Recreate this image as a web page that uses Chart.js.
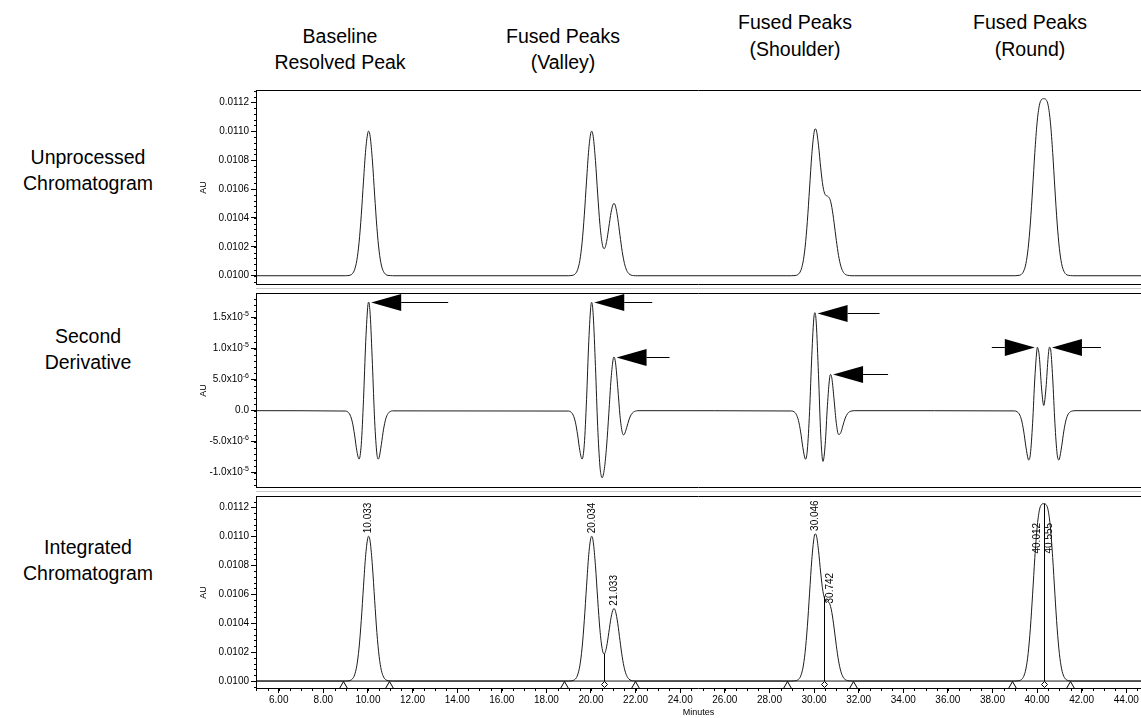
<!DOCTYPE html>
<html>
<head>
<meta charset="utf-8">
<title>Peak detection by second derivative</title>
<script src="https://cdn.jsdelivr.net/npm/chart.js@4.4.1/dist/chart.umd.min.js"></script>
<style>
  html, body { margin: 0; padding: 0; background: #fff; }
  body { position: relative; width: 1141px; height: 718px; overflow: hidden;
         font-family: "Liberation Sans", Arial, sans-serif; color: #000; }
  canvas { position: absolute; left: 194px; }
  .t { position: absolute; font-size: 19.5px; line-height: 1; white-space: nowrap;
       transform: translate(-50%, -50%); }
  .sep { position: absolute; left: 256px; width: 885px; height: 1px; background: #c9c9c9; }
</style>
</head>
<body>
<!-- column headings -->
<div class="t" style="left:340px;top:37px">Baseline</div>
<div class="t" style="left:340px;top:63px">Resolved Peak</div>
<div class="t" style="left:563px;top:37px">Fused Peaks</div>
<div class="t" style="left:563px;top:63px">(Valley)</div>
<div class="t" style="left:795px;top:23px">Fused Peaks</div>
<div class="t" style="left:795px;top:50px">(Shoulder)</div>
<div class="t" style="left:1030px;top:23px">Fused Peaks</div>
<div class="t" style="left:1030px;top:50px">(Round)</div>
<!-- row headings -->
<div class="t" style="left:88px;top:158px">Unprocessed</div>
<div class="t" style="left:88px;top:184px">Chromatogram</div>
<div class="t" style="left:88px;top:337px">Second</div>
<div class="t" style="left:88px;top:363px">Derivative</div>
<div class="t" style="left:88px;top:548px">Integrated</div>
<div class="t" style="left:88px;top:574px">Chromatogram</div>

<div class="sep" style="top:288px"></div>
<div class="sep" style="top:491px"></div>

<canvas id="raw" width="947" height="197" style="top:89px"></canvas>
<canvas id="deriv" width="947" height="197" style="top:292px"></canvas>
<canvas id="integ" width="947" height="223" style="top:495px"></canvas>

<script>
// ---- detector signal (minutes, AU) ----
const chromTime = [
  4.9,
  9.0, 9.1, 9.2, 9.3, 9.4, 9.5, 9.6, 9.7, 9.8, 9.9, 10.0, 10.033, 10.1, 10.2, 10.3, 10.4, 10.5, 10.6, 10.7, 10.8, 10.9, 11.0, 11.1,
  19.0, 19.1, 19.2, 19.3, 19.4, 19.5, 19.6, 19.7, 19.8, 19.9, 20.0, 20.034, 20.1, 20.2, 20.3, 20.4, 20.5, 20.58, 20.6, 20.7, 20.8, 20.9, 21.0, 21.033, 21.1, 21.2, 21.3, 21.4, 21.5, 21.6, 21.7, 21.8, 21.9, 22.0, 22.1,
  29.0, 29.1, 29.2, 29.3, 29.4, 29.5, 29.6, 29.7, 29.8, 29.9, 30.0, 30.046, 30.1, 30.2, 30.3, 30.4, 30.5, 30.6, 30.7, 30.742, 30.8, 30.9, 31.0, 31.1, 31.2, 31.3, 31.4, 31.5, 31.6, 31.7, 31.8,
  39.0, 39.1, 39.2, 39.3, 39.4, 39.5, 39.6, 39.7, 39.8, 39.9, 40.0, 40.1, 40.2, 40.3, 40.4, 40.5, 40.6, 40.7, 40.8, 40.9, 41.0, 41.1, 41.2, 41.3, 41.4, 41.5, 41.6, 41.7,
  44.8
];
const chromAU = [
  0.010000,
  0.010000, 0.010001, 0.010004, 0.010014, 0.010042, 0.010106, 0.010228, 0.010419, 0.010655, 0.010874, 0.010993, 0.011000, 0.010962, 0.010794, 0.010558, 0.010335, 0.010171, 0.010074, 0.010028, 0.010009, 0.010002, 0.010001, 0.010000,
  0.010000, 0.010001, 0.010004, 0.010014, 0.010042, 0.010106, 0.010228, 0.010419, 0.010655, 0.010874, 0.010993, 0.011000, 0.010962, 0.010796, 0.010565, 0.010355, 0.010224, 0.010188, 0.010188, 0.010237, 0.010336, 0.010439, 0.010497, 0.010500, 0.010481, 0.010397, 0.010279, 0.010167, 0.010085, 0.010037, 0.010014, 0.010004, 0.010001, 0.010000, 0.010000,
  0.010000, 0.010001, 0.010003, 0.010011, 0.010034, 0.010089, 0.010198, 0.010375, 0.010607, 0.010838, 0.010990, 0.011016, 0.011008, 0.010903, 0.010746, 0.010619, 0.010561, 0.010551, 0.010534, 0.010515, 0.010473, 0.010366, 0.010244, 0.010139, 0.010068, 0.010028, 0.010010, 0.010003, 0.010001, 0.010000, 0.010000,
  0.010000, 0.010001, 0.010003, 0.010010, 0.010032, 0.010084, 0.010190, 0.010365, 0.010600, 0.010853, 0.011058, 0.011177, 0.011219, 0.011225, 0.011219, 0.011177, 0.011058, 0.010853, 0.010600, 0.010365, 0.010190, 0.010084, 0.010032, 0.010010, 0.010003, 0.010001, 0.010000, 0.010000,
  0.010000
];

// ---- inverted second derivative of the signal (AU) ----
const deriv2Time = [
  4.9,
  9.0, 9.1, 9.2, 9.3, 9.4, 9.5, 9.6, 9.7, 9.8, 9.9, 10.0, 10.033, 10.1, 10.2, 10.3, 10.4, 10.46, 10.5, 10.6, 10.7, 10.8, 10.9, 11.0, 11.1,
  19.0, 19.1, 19.2, 19.3, 19.4, 19.5, 19.6, 19.7, 19.8, 19.9, 20.0, 20.034, 20.1, 20.2, 20.3, 20.4, 20.46, 20.5, 20.6, 20.7, 20.8, 20.9, 21.0, 21.033, 21.1, 21.2, 21.3, 21.4, 21.46, 21.5, 21.6, 21.7, 21.8, 21.9, 22.0, 22.1,
  29.0, 29.1, 29.2, 29.3, 29.4, 29.5, 29.6, 29.62, 29.7, 29.8, 29.9, 30.0, 30.046, 30.1, 30.2, 30.3, 30.4, 30.5, 30.6, 30.7, 30.742, 30.8, 30.9, 31.0, 31.1, 31.2, 31.3, 31.4, 31.5, 31.6, 31.7, 31.8,
  39.0, 39.1, 39.2, 39.3, 39.4, 39.5, 39.6, 39.62, 39.7, 39.8, 39.9, 40.0, 40.012, 40.1, 40.2, 40.3, 40.4, 40.5, 40.555, 40.6, 40.7, 40.8, 40.9, 40.98, 41.0, 41.1, 41.2, 41.3, 41.4, 41.5, 41.6, 41.7,
  44.8
];
const deriv2AU = [
  0,
  -0.06e-6, -0.22e-6, -0.71e-6, -1.85e-6, -3.91e-6, -6.46e-6, -7.81e-6, -5.44e-6, 1.76e-6, 11.15e-6, 17.13e-6, 17.50e-6, 15.50e-6, 7.47e-6, -1.63e-6, -6.97e-6, -7.81e-6, -7.58e-6, -5.46e-6, -2.98e-6, -1.29e-6, -0.46e-6, -0.13e-6, -0.03e-6,
  -0.06e-6, -0.22e-6, -0.71e-6, -1.85e-6, -3.91e-6, -6.46e-6, -7.81e-6, -5.44e-6, 1.76e-6, 11.15e-6, 17.10e-6, 17.46e-6, 15.39e-6, 7.12e-6, -2.56e-6, -8.93e-6, -10.54e-6, -10.81e-6, -9.36e-6, -5.70e-6, -0.41e-6, 5.12e-6, 8.44e-6, 8.66e-6, 7.72e-6, 3.73e-6, -0.81e-6, -3.48e-6, -3.90e-6, -3.79e-6, -2.73e-6, -1.49e-6, -0.65e-6, -0.23e-6, -0.07e-6, 0,
  -0.05e-6, -0.17e-6, -0.57e-6, -1.56e-6, -3.43e-6, -5.97e-6, -7.76e-6, -7.82e-6, -6.35e-6, -0.16e-6, 8.88e-6, 15.28e-6, 15.80e-6, 14.13e-6, 5.81e-6, -3.79e-6, -8.18e-6, -5.47e-6, 0.81e-6, 5.32e-6, 5.85e-6, 5.22e-6, 1.72e-6, -2.04e-6, -3.84e-6, -3.55e-6, -2.34e-6, -1.19e-6, -0.48e-6, -0.16e-6, -0.04e-6, 0,
  -0.04e-6, -0.16e-6, -0.53e-6, -1.47e-6, -3.29e-6, -5.83e-6, -7.82e-6, -7.95e-6, -7.01e-6, -2.02e-6, 5.27e-6, 10.04e-6, 10.22e-6, 8.78e-6, 3.67e-6, 0.85e-6, 3.67e-6, 8.78e-6, 10.24e-6, 10.04e-6, 5.27e-6, -2.02e-6, -7.01e-6, -7.95e-6, -7.82e-6, -5.83e-6, -3.29e-6, -1.47e-6, -0.53e-6, -0.16e-6, -0.04e-6, 0,
  0
];

// ---- integration results ----
const peakTimes = [10.033, 20.034, 21.033, 30.046, 30.742, 40.012, 40.555];
const peakLabelAU = [0.011000, 0.011000, 0.010500, 0.011016, 0.010515, 0.010860, 0.010860];
const peakBoundTimes = [8.89, 10.96, 18.80, 21.97, 28.77, 31.73, 38.89, 41.48];
const dropTimes = [20.58, 30.45, 40.30];
const dropTopAU = [0.010188, 0.010585, 0.011225];
const baselineAU = 0.0100;

// ---- axis ticks ----
const minuteTicks = [6, 8, 10, 12, 14, 16, 18, 20, 22, 24, 26, 28, 30, 32, 34, 36, 38, 40, 42, 44];
const auTicks = [0.0100, 0.0102, 0.0104, 0.0106, 0.0108, 0.0110, 0.0112];
const deriv2Ticks = [-1.0e-5, -5.0e-6, 0, 5.0e-6, 1.0e-5, 1.5e-5];

const FONT = '"Liberation Sans", Arial, sans-serif';
Chart.defaults.font.family = FONT;
Chart.defaults.font.size = 10;
Chart.defaults.color = '#000';
Chart.defaults.animation = false;

const pairs = (xs, ys) => xs.map((x, i) => ({ x, y: ys[i] }));
const LINE = '#1c1c1c';

// scale edges stay where the layout puts them, no room reserved for edge labels
function noEdgePadding(s) {
  s.paddingTop = 0; s.paddingBottom = 0; s.paddingLeft = 0; s.paddingRight = 0;
}

function xAxis(show) {
  return {
    type: 'linear', position: 'bottom', min: 4.98, max: 44.66, display: show,
    afterBuildTicks: s => { s.ticks = minuteTicks.map(v => ({ value: v })); },
    afterFit: s => { noEdgePadding(s); if (show) s.height = 29; },
    grid: { drawOnChartArea: false, drawTicks: true, tickLength: 4, tickColor: '#000' },
    border: { display: false },
    ticks: { autoSkip: false, maxRotation: 0, padding: 1, callback: v => Number(v).toFixed(2) },
    title: { display: true, text: 'Minutes', font: { size: 9 }, padding: { top: 0, bottom: 0 } }
  };
}
function yAxis(min, max, ticks, fmt) {
  return {
    type: 'linear', position: 'left', min, max,
    afterBuildTicks: s => { s.ticks = ticks.map(v => ({ value: v })); },
    afterFit: s => { noEdgePadding(s); s.width = 62; },
    grid: { drawOnChartArea: false, drawTicks: true, tickLength: 5, tickColor: '#000' },
    border: { display: false },
    ticks: { autoSkip: false, padding: 2, callback: fmt },
    title: { display: true, text: 'AU', font: { size: 9 }, padding: { top: 4, bottom: 0 } }
  };
}

// plot frame: top, left and bottom edges of the plotting area
const frame = {
  id: 'frame',
  afterDraw(chart) {
    const { ctx, chartArea: a } = chart;
    ctx.save();
    ctx.strokeStyle = '#000';
    ctx.lineWidth = 1;
    ctx.beginPath();
    ctx.moveTo(a.left, Math.round(a.top) + 0.5); ctx.lineTo(a.right, Math.round(a.top) + 0.5);
    ctx.moveTo(Math.round(a.left) + 0.5, a.top); ctx.lineTo(Math.round(a.left) + 0.5, a.bottom);
    ctx.moveTo(a.left, Math.round(a.bottom) - 0.5); ctx.lineTo(a.right, Math.round(a.bottom) - 0.5);
    ctx.stroke();
    ctx.restore();
  }
};

// short minor tick marks between the labelled ones
const minorTicks = {
  id: 'minorTicks',
  afterDraw(chart, args, opts) {
    const { ctx, chartArea: a, scales } = chart;
    ctx.save();
    ctx.strokeStyle = '#000';
    ctx.lineWidth = 1;
    ctx.beginPath();
    if (opts.yStep) {
      const s = scales.y;
      for (let i = Math.ceil(s.min / opts.yStep - 1e-6); i * opts.yStep <= s.max; i++) {
        const p = Math.round(s.getPixelForValue(i * opts.yStep)) + 0.5;
        ctx.moveTo(a.left - 2, p); ctx.lineTo(a.left, p);
      }
    }
    if (opts.xStep) {
      const s = scales.x;
      for (let i = Math.ceil(s.min / opts.xStep - 1e-6); i * opts.xStep <= s.max; i++) {
        const p = Math.round(s.getPixelForValue(i * opts.xStep)) + 0.5;
        ctx.moveTo(p, a.bottom); ctx.lineTo(p, a.bottom + 2);
      }
    }
    ctx.stroke();
    ctx.restore();
  }
};

// tick labels written as  m.mx10^e  with a raised exponent
const sciLabels = {
  id: 'sciLabels',
  afterDraw(chart) {
    const { ctx, chartArea: a } = chart;
    const s = chart.scales.y;
    const right = a.left - 7;
    ctx.save();
    ctx.fillStyle = '#000';
    ctx.textBaseline = 'middle';
    ctx.textAlign = 'left';
    deriv2Ticks.forEach(v => {
      const y = s.getPixelForValue(v);
      let base = '0.0', exp = '';
      if (v !== 0) {
        const [m, e] = v.toExponential(1).split('e');
        base = m + 'x10';
        exp = String(Number(e));
      }
      ctx.font = '7px ' + FONT;
      const we = exp ? ctx.measureText(exp).width : 0;
      ctx.font = '10px ' + FONT;
      const wb = ctx.measureText(base).width;
      ctx.fillText(base, right - we - wb, y);
      if (exp) {
        ctx.font = '7px ' + FONT;
        ctx.fillText(exp, right - we, y - 4);
      }
    });
    ctx.restore();
  }
};

// arrows pointing at the apexes found in the second derivative
const apexArrows = {
  id: 'apexArrows',
  afterDatasetsDraw(chart, args, opts) {
    const { ctx } = chart;
    const sx = chart.scales.x, sy = chart.scales.y;
    ctx.save();
    ctx.fillStyle = '#000';
    ctx.strokeStyle = '#000';
    ctx.lineWidth = 1;
    peakTimes.forEach((t, i) => {
      const v = deriv2AU[deriv2Time.indexOf(t)];
      const px = sx.getPixelForValue(t), py = Math.round(sy.getPixelForValue(v)) + 0.5;
      const dir = opts.fromLeft[i] ? -1 : 1;      // +1: tail to the right, head points left
      const tip = px + dir * 2.5;
      const head = tip + dir * opts.head;
      ctx.beginPath();
      ctx.moveTo(tip, py);
      ctx.lineTo(head, py - opts.half);
      ctx.lineTo(head, py + opts.half);
      ctx.closePath();
      ctx.fill();
      ctx.beginPath();
      ctx.moveTo(head, py);
      ctx.lineTo(head + dir * opts.tail[i], py);
      ctx.stroke();
    });
    ctx.restore();
  }
};

// integration marks: drop lines, peak start/end markers and retention time labels
const integrationMarks = {
  id: 'integrationMarks',
  afterDatasetsDraw(chart) {
    const { ctx } = chart;
    const sx = chart.scales.x, sy = chart.scales.y;
    const yb = Math.round(sy.getPixelForValue(baselineAU));
    ctx.save();
    ctx.strokeStyle = '#000';
    ctx.lineWidth = 1;
    dropTimes.forEach((t, i) => {
      const x = Math.round(sx.getPixelForValue(t)) + 0.5;
      ctx.beginPath();
      ctx.moveTo(x, yb);
      ctx.lineTo(x, sy.getPixelForValue(dropTopAU[i]));
      ctx.stroke();
    });
    ctx.fillStyle = '#fff';
    peakBoundTimes.forEach(t => {
      const x = Math.round(sx.getPixelForValue(t)) + 0.5;
      ctx.beginPath();
      ctx.moveTo(x, yb + 0.5);
      ctx.lineTo(x + 4, yb + 7.5);
      ctx.lineTo(x - 4, yb + 7.5);
      ctx.closePath();
      ctx.fill();
      ctx.stroke();
    });
    dropTimes.forEach(t => {
      const x = Math.round(sx.getPixelForValue(t)) + 0.5;
      const yc = yb + 3.5;
      ctx.beginPath();
      ctx.moveTo(x, yc - 3); ctx.lineTo(x + 3, yc); ctx.lineTo(x, yc + 3); ctx.lineTo(x - 3, yc);
      ctx.closePath();
      ctx.fill();
      ctx.stroke();
    });
    ctx.fillStyle = '#000';
    ctx.font = '10px ' + FONT;
    ctx.textAlign = 'left';
    ctx.textBaseline = 'middle';
    peakTimes.forEach((t, i) => {
      ctx.save();
      ctx.translate(sx.getPixelForValue(t), sy.getPixelForValue(peakLabelAU[i]) - 3);
      ctx.rotate(-Math.PI / 2);
      ctx.fillText(t.toFixed(3), 0, 0);
      ctx.restore();
    });
    ctx.restore();
  }
};

const lineStyle = { borderColor: LINE, borderWidth: 1, pointRadius: 0, cubicInterpolationMode: 'monotone', fill: false };
const fmtAU = v => Number(v).toFixed(4);

new Chart(document.getElementById('raw'), {
  type: 'line',
  data: { datasets: [{ ...lineStyle, data: pairs(chromTime, chromAU) }] },
  options: {
    responsive: false,
    layout: { padding: { top: 1, bottom: 1, left: 0, right: 0 } },
    plugins: { legend: { display: false }, tooltip: { enabled: false }, minorTicks: { yStep: 0.00004 } },
    scales: { x: xAxis(false), y: yAxis(0.009936, 0.011285, auTicks, fmtAU) }
  },
  plugins: [frame, minorTicks]
});

new Chart(document.getElementById('deriv'), {
  type: 'line',
  data: { datasets: [{ ...lineStyle, data: pairs(deriv2Time, deriv2AU) }] },
  options: {
    responsive: false,
    layout: { padding: { top: 1, bottom: 1, left: 0, right: 0 } },
    plugins: {
      legend: { display: false }, tooltip: { enabled: false },
      minorTicks: { yStep: 1e-6 },
      apexArrows: { head: 30, half: 8.5, tail: [47, 28, 23, 32, 25, 13, 19],
                    fromLeft: [false, false, false, false, false, true, false] }
    },
    scales: { x: xAxis(false), y: yAxis(-12.47e-6, 18.98e-6, deriv2Ticks, () => '') }
  },
  plugins: [frame, minorTicks, sciLabels, apexArrows]
});

new Chart(document.getElementById('integ'), {
  type: 'line',
  data: {
    datasets: [
      { ...lineStyle, data: pairs([4.9, 44.8], [baselineAU, baselineAU]) },
      { ...lineStyle, data: pairs(chromTime, chromAU) }
    ]
  },
  options: {
    responsive: false,
    layout: { padding: { top: 1, bottom: 0, left: 0, right: 0 } },
    plugins: { legend: { display: false }, tooltip: { enabled: false }, minorTicks: { yStep: 0.00004, xStep: 0.5 } },
    scales: { x: xAxis(true), y: yAxis(0.009945, 0.011278, auTicks, fmtAU) }
  },
  plugins: [frame, minorTicks, integrationMarks]
});
</script>
</body>
</html>
